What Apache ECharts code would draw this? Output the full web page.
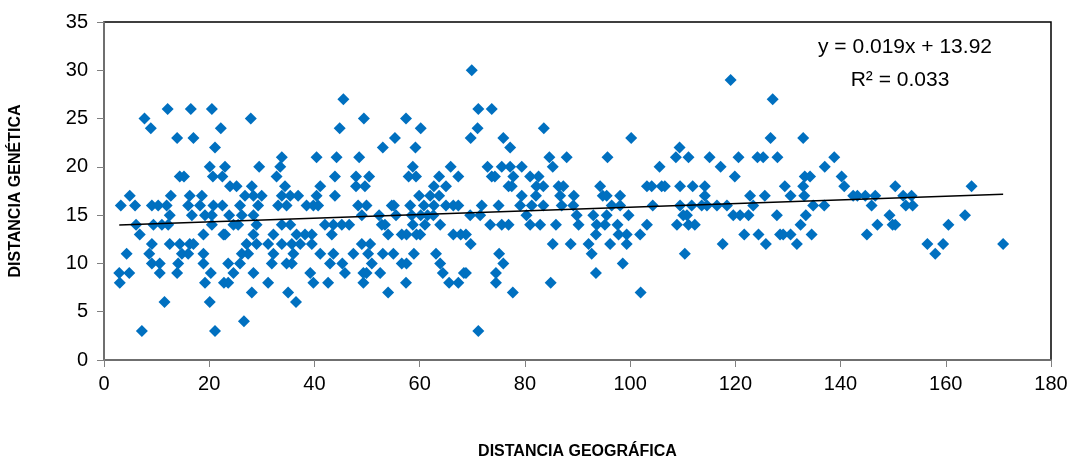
<!DOCTYPE html>
<html>
<head>
<meta charset="utf-8">
<script src="https://cdn.jsdelivr.net/npm/echarts@6/dist/echarts.min.js"></script>
<style>
html,body{margin:0;padding:0;background:#fff;}
#chart{width:1075px;height:461px;}
</style>
</head>
<body>
<div id="chart"></div>
<script>
// Distancia geográfica (x) values
const geoDistance = [
12.1,16.5,20.5, 7.7, 8.9,22.2, 13.9,17.0, 21.1, 20.1,23.0,
14.4,15.2,20.7,22.5, 4.9,12.7,16.3,18.6,
3.2,5.9,9.1,10.3,11.9,16.0,18.25,20.8,22.5,
12.5,16.7,19.2,20.5, 6.1,9.4,11.0,12.2,20.5, 6.8,18.9,22.7,
9.1,12.5,14.4,16.3,17.0, 4.3,8.6,14.8,16.0,18.9, 9.1,10.6,14.1,18.9,
2.9,4.8,10.6,13.9,20.3, 3.0,19.2,22.8, 11.5,20.1, 7.2,21.1,
// 22-45
45.5, 27.9, 44.8, 33.8,40.4,44.2, 29.5,33.5, 32.8,43.9,
23.95,25.2,28.1,34.4,41.1, 26.8,28.4,29.97,33.8,35.4,36.9,40.4,43.9,
25.85,29.3,33.1,34.7,38.5,39.8,40.7, 23.8,26.2,28.4,
24.6,25.5,29.0,33.8,35.4,42.0,43.6,45.2, 23.0,28.4,32.2,36.6,38.2,39.5,43.3,
27.1,29.0,31.2,33.8,35.7,37.3,39.5, 26.2,27.4,32.2,36.0,41.1,43.6,
23.6,25.85,31.9,34.7,35.7,42.96,45.3, 24.6,28.4,39.2, 23.6,31.2,39.8,42.6,
28.1,35.0, 36.5, 26.6,
// 45-68
49.4,57.4, 60.2, 55.3, 53.0,59.2, 48.5, 58.7,65.9,
47.9,50.4,57.9,59.3,63.7,67.35, 47.9,49.6,62.7,65.0, 59.9,62.0,63.7,
48.3,49.9,54.7,55.1,58.2,60.8,62.7,65.0,66.4,67.35,
49.0,52.3,55.5,58.5,60.2,61.5,62.6, 46.6,52.8,53.4,58.7,61.0,63.9,
54.0,56.6,57.5,59.4,60.1,66.4,67.8, 49.0,50.6, 47.4,50.2,53.0,55.0,58.9,63.1,
50.9,56.6,57.5,63.9, 45.8,49.3,49.9,52.5,64.4,68.4, 49.3,57.4,65.6,67.35, 54.0,
// 68-91
69.9, 71.15,73.7, 71.0,83.6, 69.7,75.9, 77.2, 84.65,87.95,
72.9,75.6,77.2,79.4,85.3, 73.7,74.3,77.8,81.0,82.6,
76.9,77.5,82.2,83.5,86.4,87.3, 79.4,82.1,86.7,89.3,
71.8,75.0,79.1,81.3,83.5,87.0,89.2, 69.6,71.5,80.3,89.85,
73.4,75.6,76.9,81.0,82.9,85.9,90.2, 68.8, 69.7,85.3,88.7, 75.1, 75.9,
68.8,74.5, 74.5,84.9, 77.7, 71.15,
// 91-114
100.2, 109.4, 95.7,108.7,111.1, 105.6,
94.3,103.2,104.1,106.0,106.6,109.5,111.9, 94.8,95.55,98.1,
96.5,98.1,104.3,109.5,111.7, 93.0,95.55,99.7,110.1,110.8,
93.65,95.2,97.6,103.2,108.9,111.1,112.3, 93.5,97.8,99.35,101.9,
92.1,96.2,99.35, 92.7,110.4, 98.6, 93.5, 102.0,
// 114-137
119.1, 127.1, 126.7,132.9, 115.1,120.6,124.2,125.3,128.0, 117.2,137.0,
119.9,133.2,134.2, 114.2,129.4,132.9, 114.2,122.8,125.6,130.5,133.1,
113.6,114.6,116.5,118.4,123.4,134.8,136.9, 119.6,120.9,122.5,127.9,133.4,
132.4, 121.7,124.4,128.5,129.1,130.5,134.5, 117.6,125.8,131.7,
// 137-171
138.8, 140.2, 140.7,150.4, 142.4,143.2,144.7,146.6,151.9,153.5,
145.9,152.4,153.7, 149.3, 147.0,149.9,150.4, 145.0, 156.5,159.5, 158.0,
164.9, 163.65, 160.5, 170.9
];
// Distancia genética (y) values
const genDistance = [
26,26,26, 25, 24,24, 23,23, 22, 20,20,
19,19,19,19, 17,17,17,17,
16,16,16,16,16,16,16,16,16,
15,15,15,15, 14,14,14,14,14, 13,13,13,
12,12,12,12,12, 11,11,11,11,11, 10,10,10,10,
9,9,9,9,9, 8,8,8, 6,6, 3,3,
27, 25, 24, 21,21,21, 20,20, 19,19,
18,18,18,18,18, 17,17,17,17,17,17,17,17,
16,16,16,16,16,16,16, 15,15,15,
14,14,14,14,14,14,14,14, 13,13,13,13,13,13,13,
12,12,12,12,12,12,12, 11,11,11,11,11,11,
10,10,10,10,10,10,10, 9,9,9, 8,8,8,8,
7,7, 6, 4,
25,25, 24, 23, 22,22, 21, 20,20,
19,19,19,19,19,19, 18,18,18,18, 17,17,17,
16,16,16,16,16,16,16,16,16,16,
15,15,15,15,15,15,15, 14,14,14,14,14,14,
13,13,13,13,13,13,13, 12,12, 11,11,11,11,11,11,
10,10,10,10, 9,9,9,9,9,9, 8,8,8,8, 7,
30, 26,26, 24,24, 23,23, 22, 21,21,
20,20,20,20,20, 19,19,19,19,19,
18,18,18,18,18,18, 17,17,17,17,
16,16,16,16,16,16,16, 15,15,15,15,
14,14,14,14,14,14,14, 13, 12,12,12, 11, 10,
9,9, 8,8, 7, 3,
23, 22, 21,21,21, 20,
18,18,18,18,18,18,18, 17,17,17,
16,16,16,16,16, 15,15,15,15,15,
14,14,14,14,14,14,14, 13,13,13,13,
12,12,12, 11,11, 10, 9, 7,
29, 27, 23,23, 21,21,21,21,21, 20,20,
19,19,19, 18,18,18, 17,17,17,17,17,
16,16,16,16,16,16,16, 15,15,15,15,15,
14, 13,13,13,13,13,13, 12,12,12,
21, 19, 18,18, 17,17,17,17,17,17,
16,16,16, 15, 14,14,14, 13, 12,12, 11,
18, 15, 14, 12
];
// Trendline as labelled on the chart
const trendSlope = 0.019;
const trendIntercept = 13.92;
const rSquared = 0.033;
const xTicks = [0,20,40,60,80,100,120,140,160,180];
const yTicks = [0,5,10,15,20,25,30,35];

const points = geoDistance.map((x, i) => [x, genDistance[i]]);
const xMin = Math.min(...geoDistance), xMax = Math.max(...geoDistance);
const trend = [[xMin, trendSlope * xMin + trendIntercept], [xMax, trendSlope * xMax + trendIntercept]];

const font = 'Liberation Sans';
const chart = echarts.init(document.getElementById('chart'), null, {renderer: 'canvas'});
chart.setOption({
  animation: false,
  backgroundColor: '#fff',
  grid: {left: 104, right: 24, top: 22, bottom: 101, containLabel: false, outerBoundsMode: 'none',
         show: true, borderColor: '#000', borderWidth: 1.5, backgroundColor: 'transparent'},
  xAxis: {
    type: 'value', min: xTicks[0], max: xTicks[xTicks.length - 1], interval: 20,
    axisLine: {show: true, onZero: false, lineStyle: {color: '#808080', width: 1.5}},
    axisTick: {show: true, inside: false, length: 7, lineStyle: {color: '#808080', width: 1}},
    splitLine: {show: false},
    axisLabel: {fontFamily: font, fontSize: 20, color: '#000', margin: 14},
    name: 'DISTANCIA GEOGRÁFICA', nameLocation: 'middle', nameGap: 84,
    nameTextStyle: {fontFamily: font, fontSize: 16, fontWeight: 'bold', color: '#000'}
  },
  yAxis: {
    type: 'value', min: yTicks[0], max: yTicks[yTicks.length - 1], interval: 5,
    axisLine: {show: true, onZero: false, lineStyle: {color: '#808080', width: 1.5}},
    axisTick: {show: true, inside: false, length: 7, lineStyle: {color: '#808080', width: 1}},
    splitLine: {show: false},
    axisLabel: {fontFamily: font, fontSize: 20, color: '#000', margin: 16},
    name: 'DISTANCIA GENÉTICA', nameLocation: 'middle', nameGap: 80, nameRotate: 90,
    nameTextStyle: {fontFamily: font, fontSize: 16, fontWeight: 'bold', color: '#000'}
  },
  series: [
    {
      type: 'scatter', data: points, symbol: 'diamond', symbolSize: [12, 12],
      itemStyle: {color: '#0070C0', opacity: 1}, z: 2
    },
    {
      type: 'line', data: trend, showSymbol: false, symbol: 'none',
      lineStyle: {color: '#000', width: 1.6}, z: 3, silent: true
    }
  ],
  graphic: [
    {type: 'text', x: 905, y: 47, z: 10, style: {text: 'y = ' + trendSlope + 'x + ' + trendIntercept, fontFamily: font, fontSize: 21, fill: '#000', textAlign: 'center', textVerticalAlign: 'middle'}},
    {type: 'text', x: 900, y: 80, z: 10, style: {text: 'R² = ' + rSquared, fontFamily: font, fontSize: 21, fill: '#000', textAlign: 'center', textVerticalAlign: 'middle'}}
  ]
});
</script>
</body>
</html>
